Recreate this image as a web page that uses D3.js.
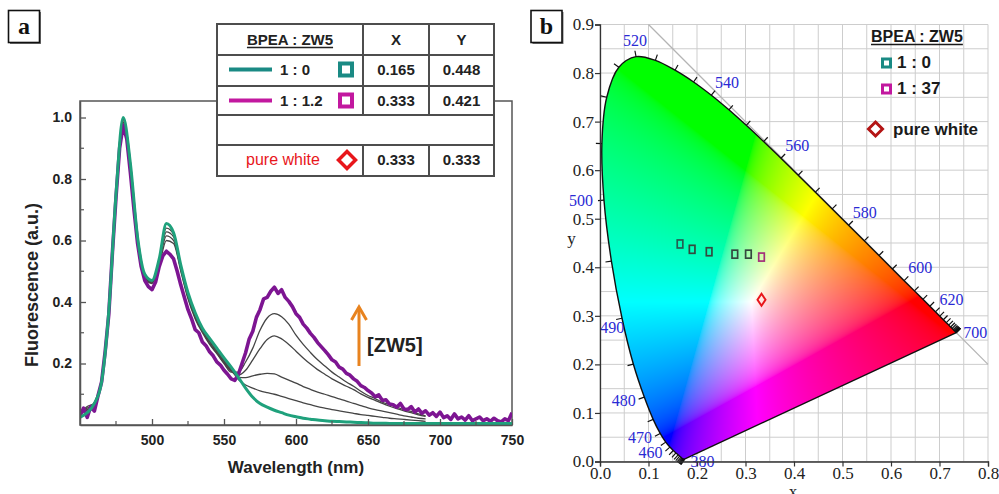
<!DOCTYPE html>
<html>
<head>
<meta charset="utf-8">
<script src="https://cdn.jsdelivr.net/npm/d3@7"></script>
<style>
  html, body { margin: 0; padding: 0; background: #fff; }
  svg { display: block; }
</style>
</head>
<body>
<svg id="chart" width="999" height="494"></svg>
<script>
// ================= Panel a: fluorescence spectra =================
const specStart = 450;

// BPEA : ZW5 = 1 : 0 (smooth reference spectrum), 5 nm sampling
const greenStep = 5;
const greenVals = [0.025,0.040,0.070,0.140,0.370,0.750,1.000,0.850,0.610,0.490,
  0.470,0.540,0.655,0.625,0.520,0.430,0.365,0.315,0.282,0.250,
  0.218,0.188,0.155,0.120,0.090,0.070,0.058,0.048,0.040,0.032,
  0.027,0.022,0.019,0.016,0.014,0.012,0.011,0.010,0.009,0.008,
  0.007,0.006,0.006,0.005,0.005,0.005,0.005,0.005,0.005,0.005,
  0.005,0.005,0.005,0.005,0.005,0.005,0.005,0.005,0.005,0.005,0.005];

// BPEA : ZW5 = 1 : 1.2 (noisy), 2.5 nm sampling
const purpleStep = 2.5;
const purpleVals = [0.030,0.055,0.025,0.060,0.045,0.095,0.140,0.240,0.360,0.560,
  0.740,0.900,0.975,0.930,0.820,0.700,0.590,0.515,0.470,0.450,
  0.440,0.465,0.515,0.550,0.565,0.555,0.540,0.500,0.455,0.415,
  0.375,0.345,0.310,0.300,0.270,0.258,0.238,0.225,0.205,0.195,
  0.178,0.165,0.150,0.145,0.165,0.200,0.235,0.280,0.305,0.350,
  0.375,0.410,0.415,0.435,0.448,0.428,0.440,0.415,0.402,0.385,
  0.362,0.350,0.328,0.315,0.298,0.285,0.268,0.255,0.242,0.228,
  0.212,0.205,0.188,0.182,0.168,0.162,0.150,0.142,0.128,0.122,
  0.112,0.104,0.092,0.098,0.080,0.082,0.068,0.066,0.058,0.070,
  0.052,0.050,0.060,0.042,0.052,0.038,0.046,0.032,0.040,0.028,
  0.042,0.024,0.030,0.018,0.036,0.020,0.026,0.016,0.030,0.014,
  0.020,0.026,0.014,0.020,0.012,0.022,0.014,0.010,0.020,0.014,0.040];

// intermediate ratios, 5 nm sampling (450 - 690 nm)
const grayStep = 5;
const gray1Vals = [0.040,0.055,0.070,0.140,0.360,0.740,0.980,0.840,0.600,0.480,
  0.460,0.520,0.600,0.590,0.500,0.410,0.345,0.300,0.262,0.232,
  0.200,0.172,0.172,0.205,0.250,0.308,0.348,0.362,0.352,0.328,
  0.292,0.262,0.236,0.212,0.192,0.172,0.156,0.140,0.126,0.110,
  0.096,0.086,0.074,0.066,0.058,0.050,0.044,0.036,0.030];
const gray2Vals = [0.045,0.050,0.075,0.145,0.365,0.745,0.985,0.845,0.605,0.482,
  0.462,0.528,0.615,0.600,0.505,0.415,0.350,0.305,0.265,0.234,
  0.202,0.175,0.162,0.178,0.212,0.248,0.278,0.290,0.280,0.262,
  0.240,0.218,0.198,0.180,0.165,0.150,0.138,0.126,0.115,0.101,
  0.090,0.080,0.070,0.061,0.053,0.046,0.040,0.033,0.028];
const gray3Vals = [0.035,0.060,0.070,0.140,0.370,0.750,0.990,0.850,0.608,0.485,
  0.465,0.532,0.628,0.612,0.512,0.420,0.355,0.308,0.270,0.238,
  0.206,0.178,0.155,0.154,0.160,0.165,0.168,0.166,0.156,0.146,
  0.136,0.125,0.116,0.107,0.100,0.092,0.085,0.078,0.070,0.063,
  0.056,0.050,0.045,0.040,0.035,0.030,0.026,0.022,0.020];
const gray4Vals = [0.040,0.048,0.072,0.142,0.368,0.752,0.995,0.855,0.610,0.488,
  0.468,0.538,0.640,0.620,0.518,0.425,0.360,0.312,0.274,0.242,
  0.210,0.180,0.148,0.130,0.120,0.111,0.105,0.100,0.093,0.086,
  0.079,0.072,0.066,0.060,0.055,0.050,0.046,0.042,0.038,0.034,
  0.031,0.028,0.025,0.022,0.020,0.018,0.016,0.014,0.012];

const xTicksA = [500, 550, 600, 650, 700, 750];
const xMinorA = [475, 525, 575, 625, 675, 725];
const yTicksA = [0.2, 0.4, 0.6, 0.8, 1.0];
const yMinorA = [0.1, 0.3, 0.5, 0.7, 0.9];

// table contents
const tableHeader = ["BPEA : ZW5", "X", "Y"];
const ratioLabels = ["1 : 0", "1 : 1.2"];
const ratioX = ["0.165", "0.333"];
const ratioY = ["0.448", "0.421"];
const whiteLabel = "pure white";
const whiteX = "0.333", whiteY = "0.333";

// ================= Panel b: CIE 1931 chromaticity =================
// spectral locus, 380-700 nm every 5 nm (CIE 1931 2-degree observer)
const locusWl = [380,385,390,395,400,405,410,415,420,425,430,435,440,445,450,455,460,465,470,475,
  480,485,490,495,500,505,510,515,520,525,530,535,540,545,550,555,560,565,570,575,
  580,585,590,595,600,605,610,615,620,625,630,635,640,645,650,655,660,665,670,675,
  680,685,690,695,700];
const locusX = [0.1741,0.1740,0.1738,0.1736,0.1733,0.1730,0.1726,0.1721,0.1714,0.1703,
  0.1689,0.1669,0.1644,0.1611,0.1566,0.1510,0.1440,0.1355,0.1241,0.1096,
  0.0913,0.0687,0.0454,0.0235,0.0082,0.0039,0.0139,0.0389,0.0743,0.1142,
  0.1547,0.1929,0.2296,0.2658,0.3016,0.3373,0.3731,0.4087,0.4441,0.4788,
  0.5125,0.5448,0.5752,0.6029,0.6270,0.6482,0.6658,0.6801,0.6915,0.7006,
  0.7079,0.7140,0.7190,0.7230,0.7260,0.7283,0.7300,0.7311,0.7320,0.7327,
  0.7334,0.7340,0.7344,0.7346,0.7347];
const locusY = [0.0050,0.0050,0.0049,0.0049,0.0048,0.0048,0.0048,0.0048,0.0051,0.0058,
  0.0069,0.0086,0.0109,0.0138,0.0177,0.0227,0.0297,0.0399,0.0578,0.0868,
  0.1327,0.2007,0.2950,0.4127,0.5384,0.6548,0.7502,0.8120,0.8338,0.8262,
  0.8059,0.7816,0.7543,0.7243,0.6923,0.6589,0.6245,0.5896,0.5547,0.5202,
  0.4866,0.4544,0.4242,0.3965,0.3725,0.3514,0.3340,0.3197,0.3083,0.2993,
  0.2920,0.2859,0.2809,0.2770,0.2740,0.2717,0.2700,0.2689,0.2680,0.2673,
  0.2666,0.2660,0.2656,0.2654,0.2653];
const labeledWl = [380,460,470,480,490,500,520,540,560,580,600,620,700];

// measured colour coordinates while titrating ZW5
const seriesX = [0.165, 0.190, 0.225, 0.278, 0.306, 0.333];
const seriesY = [0.448, 0.437, 0.432, 0.427, 0.427, 0.421];
const pureWhite = [0.333, 0.333];
const legendB = ["1 : 0", "1 : 37"];

const xTicksB = [0, 0.1, 0.2, 0.3, 0.4, 0.5, 0.6, 0.7, 0.8];
const yTicksB = [0, 0.1, 0.2, 0.3, 0.4, 0.5, 0.6, 0.7, 0.8, 0.9];
const gridXB = d3.range(0, 0.8001, 0.05);
const gridYB = d3.range(0, 0.9001, 0.05);

// ---------------------------------------------------------------
const svg = d3.select("#chart");
const SANS = "'Liberation Sans', Arial, sans-serif";
const SERIF = "'Liberation Serif', 'Times New Roman', serif";

const COL_GREEN = "#1fa17c";
const COL_PURPLE = "#7d1592";
const COL_GRAY = "#454545";
const COL_TEAL = "#1a8a84";
const COL_MAGENTA = "#c2189f";
const COL_RED = "#e8161b";

function panelLabel(x, y, letter) {
  const g = svg.append("g");
  g.append("rect").attr("x", x + 1.5).attr("y", y + 1.5).attr("width", 31).attr("height", 32)
    .attr("fill", "#777");
  g.append("rect").attr("x", x).attr("y", y).attr("width", 31).attr("height", 32)
    .attr("fill", "#fff").attr("stroke", "#111").attr("stroke-width", 1.6);
  g.append("text").attr("x", x + 15.5).attr("y", y + 23.5).attr("text-anchor", "middle")
    .attr("font-family", SERIF).attr("font-weight", "bold").attr("font-size", 24)
    .attr("fill", "#111").text(letter);
}

// ---------- panel a ----------
const xA = d3.scaleLinear().domain([450, 750]).range([80, 512]);
const yA = d3.scaleLinear().domain([0, 1.0537]).range([425, 101]);

svg.append("defs").append("clipPath").attr("id", "clipA")
  .append("rect").attr("x", 80).attr("y", 101).attr("width", 432).attr("height", 324);

const gA = svg.append("g");
gA.append("rect").attr("x", xA(450)).attr("y", yA(1.0537))
  .attr("width", xA(750) - xA(450)).attr("height", yA(0) - yA(1.0537))
  .attr("fill", "none").attr("stroke", "#555").attr("stroke-width", 1.5);

const toPts = (vals, step) => vals.map((v, i) => [specStart + i * step, v]);
const lineSmooth = d3.line().x(d => xA(d[0])).y(d => yA(d[1])).curve(d3.curveMonotoneX);
const lineRaw = d3.line().x(d => xA(d[0])).y(d => yA(d[1]));

const curves = gA.append("g").attr("clip-path", "url(#clipA)");
[gray1Vals, gray2Vals, gray3Vals, gray4Vals].forEach(vals => {
  curves.append("path").attr("d", lineSmooth(toPts(vals, grayStep)))
    .attr("fill", "none").attr("stroke", COL_GRAY).attr("stroke-width", 1.3);
});
curves.append("path").attr("d", lineRaw(toPts(purpleVals, purpleStep)))
  .attr("fill", "none").attr("stroke", COL_PURPLE).attr("stroke-width", 3.6)
  .attr("stroke-linejoin", "round");
curves.append("path").attr("d", lineSmooth(toPts(greenVals, greenStep)))
  .attr("fill", "none").attr("stroke", COL_GREEN).attr("stroke-width", 3);

// axes
const axA = gA.append("g").attr("transform", `translate(0,${yA(0)})`)
  .call(d3.axisBottom(xA).tickValues(xTicksA).tickSizeInner(-6).tickSizeOuter(0).tickPadding(10)
    .tickFormat(d3.format("d")));
const ayA = gA.append("g").attr("transform", `translate(${xA(450)},0)`)
  .call(d3.axisLeft(yA).tickValues(yTicksA).tickSizeInner(-6).tickSizeOuter(0).tickPadding(8)
    .tickFormat(d3.format(".1f")));
[axA, ayA].forEach(a => {
  a.select(".domain").attr("stroke", "#555").attr("stroke-width", 1.5);
  a.selectAll(".tick line").attr("stroke", "#555").attr("stroke-width", 1.3);
  a.selectAll(".tick text").attr("font-family", SANS).attr("font-weight", "bold")
    .attr("font-size", 14).attr("fill", "#222");
});
gA.selectAll(".minx").data(xMinorA).join("line")
  .attr("x1", d => xA(d)).attr("x2", d => xA(d)).attr("y1", yA(0)).attr("y2", yA(0) - 4)
  .attr("stroke", "#555").attr("stroke-width", 1.2);
gA.selectAll(".miny").data(yMinorA).join("line")
  .attr("y1", d => yA(d)).attr("y2", d => yA(d)).attr("x1", xA(450)).attr("x2", xA(450) + 4)
  .attr("stroke", "#555").attr("stroke-width", 1.2);

gA.append("text").attr("x", (xA(450) + xA(750)) / 2).attr("y", 473).attr("text-anchor", "middle")
  .attr("font-family", SANS).attr("font-weight", "bold").attr("font-size", 17).attr("fill", "#222")
  .text("Wavelength (nm)");
gA.append("text").attr("transform", "translate(38,285) rotate(-90)").attr("text-anchor", "middle")
  .attr("font-family", SANS).attr("font-weight", "bold").attr("font-size", 18).attr("fill", "#222")
  .text("Fluorescence (a.u.)");

// orange arrow with label
const arrow = gA.append("g").attr("stroke", "#e8831f").attr("stroke-width", 3).attr("fill", "none");
arrow.append("line").attr("x1", 359).attr("x2", 359).attr("y1", 366).attr("y2", 308);
arrow.append("polyline").attr("points", "351.5,320 359,307 366.5,320").attr("stroke-linejoin", "miter");
gA.append("text").attr("x", 367).attr("y", 352).attr("font-family", SANS).attr("font-size", 20)
  .attr("font-weight", "bold").attr("fill", "#222").text("[ZW5]");

// table
const tb = svg.append("g");
const colX = [217, 363, 429, 494];
const rowY = [24, 55, 86, 115, 145, 176];
tb.append("rect").attr("x", colX[0]).attr("y", rowY[0]).attr("width", colX[3] - colX[0])
  .attr("height", rowY[5] - rowY[0]).attr("fill", "#fff");
const tStroke = "#4d4d4d";
tb.append("rect").attr("x", colX[0]).attr("y", rowY[0]).attr("width", colX[3] - colX[0])
  .attr("height", rowY[5] - rowY[0]).attr("fill", "none").attr("stroke", tStroke).attr("stroke-width", 2);
rowY.slice(1, 5).forEach(y => tb.append("line").attr("x1", colX[0]).attr("x2", colX[3])
  .attr("y1", y).attr("y2", y).attr("stroke", tStroke).attr("stroke-width", 2));
[colX[1], colX[2]].forEach(x => {
  tb.append("line").attr("x1", x).attr("x2", x).attr("y1", rowY[0]).attr("y2", rowY[3])
    .attr("stroke", tStroke).attr("stroke-width", 2);
  tb.append("line").attr("x1", x).attr("x2", x).attr("y1", rowY[4]).attr("y2", rowY[5])
    .attr("stroke", tStroke).attr("stroke-width", 2);
});
const tText = (x, y, s, anchor, opts = {}) => tb.append("text").attr("x", x).attr("y", y)
  .attr("text-anchor", anchor).attr("font-family", SANS)
  .attr("font-weight", opts.weight || "bold").attr("font-size", opts.size || 15)
  .attr("fill", opts.fill || "#222").text(s);
const hdr = tText((colX[0] + colX[1]) / 2, 45, tableHeader[0], "middle");
const hw = hdr.node().getComputedTextLength();
tb.append("line").attr("x1", 290 - hw / 2).attr("x2", 290 + hw / 2).attr("y1", 47.5).attr("y2", 47.5)
  .attr("stroke", "#222").attr("stroke-width", 1.3);
tText((colX[1] + colX[2]) / 2, 45, tableHeader[1], "middle");
tText((colX[2] + colX[3]) / 2, 45, tableHeader[2], "middle");

const rowBase = [75, 106];
const rowColors = [COL_TEAL, COL_MAGENTA];
ratioLabels.forEach((lab, i) => {
  const yb = rowBase[i];
  tb.append("line").attr("x1", 229).attr("x2", 272).attr("y1", yb - 5.5).attr("y2", yb - 5.5)
    .attr("stroke", rowColors[i]).attr("stroke-width", 4);
  tText(280, yb, lab, "start");
  tb.append("rect").attr("x", 340).attr("y", yb - 11.5).attr("width", 12).attr("height", 12)
    .attr("fill", "none").attr("stroke", rowColors[i]).attr("stroke-width", 4);
  tText((colX[1] + colX[2]) / 2, yb, ratioX[i], "middle");
  tText((colX[2] + colX[3]) / 2, yb, ratioY[i], "middle");
});
tText(246, 165, whiteLabel, "start", { weight: "normal", size: 16, fill: COL_RED });
tb.append("path").attr("d", "M347,151.5 L355.5,160 L347,168.5 L338.5,160 Z")
  .attr("fill", "none").attr("stroke", COL_RED).attr("stroke-width", 3.5);
tText((colX[1] + colX[2]) / 2, 165, whiteX, "middle");
tText((colX[2] + colX[3]) / 2, 165, whiteY, "middle");

panelLabel(8.5, 10.5, "a");

// ---------- panel b ----------
const xB = d3.scaleLinear().domain([0, 0.8]).range([600, 988]);
const yB = d3.scaleLinear().domain([0, 0.9]).range([461.5, 24.5]);
const gB = svg.append("g");

// grid
gB.selectAll(".gx").data(gridXB).join("line")
  .attr("x1", d => xB(d)).attr("x2", d => xB(d)).attr("y1", yB(0)).attr("y2", yB(0.9))
  .attr("stroke", "#cdcdcd").attr("stroke-width", 1);
gB.selectAll(".gy").data(gridYB).join("line")
  .attr("y1", d => yB(d)).attr("y2", d => yB(d)).attr("x1", xB(0)).attr("x2", xB(0.8))
  .attr("stroke", "#cdcdcd").attr("stroke-width", 1);
// x + y = 1 boundary
gB.append("line").attr("x1", xB(0.1)).attr("y1", yB(0.9)).attr("x2", xB(0.8)).attr("y2", yB(0.2))
  .attr("stroke", "#b4b4b4").attr("stroke-width", 1.3);

// spectral locus as a smooth curve, closed by the purple line
const locusPts = locusWl.map((w, i) => [xB(locusX[i]), yB(locusY[i])]);
const locusD = d3.line().curve(d3.curveCatmullRom.alpha(0.5))(locusPts) + "Z";
const tmpPath = gB.append("path").attr("d", locusD).attr("fill", "none").attr("stroke", "none");
const locusPoly = (function () {
  const node = tmpPath.node();
  const L = node.getTotalLength();
  const out = [];
  for (let s = 0; s <= L; s += 0.75) {
    const p = node.getPointAtLength(s);
    out.push([p.x, p.y]);
  }
  return out;
})();
tmpPath.remove();

function chromaColor(cx, cy) {
  const X = cx / cy, Y = 1, Z = (1 - cx - cy) / cy;
  let r = 3.2406 * X - 1.5372 * Y - 0.4986 * Z;
  let g = -0.9689 * X + 1.8758 * Y + 0.0415 * Z;
  let b = 0.0557 * X - 0.2040 * Y + 1.0570 * Z;
  r = Math.max(0, r); g = Math.max(0, g); b = Math.max(0, b);
  const m = Math.max(r, g, b) || 1;
  const enc = v => { v /= m; return 255 * (v <= 0.0031308 ? 12.92 * v : 1.055 * Math.pow(v, 1 / 2.4) - 0.055); };
  return [enc(r), enc(g), enc(b)];
}
(function paintGamut() {
  const bx0 = Math.floor(d3.min(locusPoly, d => d[0])) - 1, bx1 = Math.ceil(d3.max(locusPoly, d => d[0])) + 1;
  const by0 = Math.floor(d3.min(locusPoly, d => d[1])) - 1, by1 = Math.ceil(d3.max(locusPoly, d => d[1])) + 1;
  const w = bx1 - bx0, h = by1 - by0;
  const cv = document.createElement("canvas");
  cv.width = w; cv.height = h;
  const ctx = cv.getContext("2d");
  const img = ctx.createImageData(w, h);
  for (let j = 0; j < h; j++) {
    for (let i = 0; i < w; i++) {
      const px = bx0 + i + 0.5, py = by0 + j + 0.5;
      if (!d3.polygonContains(locusPoly, [px, py])) continue;
      const c = chromaColor(xB.invert(px), Math.max(yB.invert(py), 0.003));
      const k = (j * w + i) * 4;
      img.data[k] = c[0]; img.data[k + 1] = c[1]; img.data[k + 2] = c[2]; img.data[k + 3] = 255;
    }
  }
  ctx.putImageData(img, 0, 0);
  gB.append("image").attr("x", bx0).attr("y", by0).attr("width", w).attr("height", h)
    .attr("href", cv.toDataURL("image/png"));
})();

// locus outline
gB.append("path").attr("d", locusD).attr("fill", "none")
  .attr("stroke", "#111").attr("stroke-width", 1.4).attr("stroke-linejoin", "round");

// wavelength ticks (outward normals)
function normalAt(i) {
  let a = i, b = i;
  const dist = () => Math.hypot(locusPts[b][0] - locusPts[a][0], locusPts[b][1] - locusPts[a][1]);
  while (dist() < 6 && (a > 0 || b < locusPts.length - 1)) {
    if (a > 0) a--;
    if (b < locusPts.length - 1) b++;
  }
  const tx = locusPts[b][0] - locusPts[a][0], ty = locusPts[b][1] - locusPts[a][1];
  const L = Math.hypot(tx, ty) || 1;
  return [ty / L, -tx / L];
}
const TICK = 6;
const tickG = gB.append("g").attr("stroke", "#111").attr("stroke-width", 1.2);
locusPts.forEach((p, i) => {
  const n = normalAt(i);
  tickG.append("line").attr("x1", p[0]).attr("y1", p[1])
    .attr("x2", p[0] + n[0] * TICK).attr("y2", p[1] + n[1] * TICK);
});
labeledWl.forEach(wl => {
  const i = locusWl.indexOf(wl);
  const p = locusPts[i];
  const n = normalAt(i);
  const ex = p[0] + n[0] * TICK, ey = p[1] + n[1] * TICK;
  let x, y, anchor;
  if (wl === 380) { x = p[0] + 6; y = p[1] + 2; anchor = "start"; }
  else if (wl === 700) { x = p[0] + 7; y = p[1]; anchor = "start"; }
  else if (wl === 490) { x = ex - 16; y = ey + 8; anchor = "start"; }
  else if (wl === 500) { x = ex - 5; y = ey; anchor = "end"; }
  else if (n[0] > 0.3) { x = ex; y = ey - 8.5; anchor = "start"; }
  else if (n[0] < -0.3) { x = ex - 3; y = ey + 1.5; anchor = "end"; }
  else { x = ex; y = ey - 10; anchor = "middle"; }
  gB.append("text").attr("x", x).attr("y", y)
    .attr("text-anchor", anchor).attr("dominant-baseline", "central")
    .attr("font-family", SERIF).attr("font-size", 16).attr("fill", "#2a2ad4").text(wl);
});

// axes
const axB = gB.append("g").attr("transform", `translate(0,${yB(0)})`)
  .call(d3.axisBottom(xB).tickValues(xTicksB).tickSize(5).tickPadding(0).tickFormat(d3.format(".1f")));
const ayB = gB.append("g").attr("transform", `translate(${xB(0)},0)`)
  .call(d3.axisLeft(yB).tickValues(yTicksB).tickSize(5).tickPadding(1).tickFormat(d3.format(".1f")));
[axB, ayB].forEach(a => {
  a.select(".domain").attr("stroke", "#333").attr("stroke-width", 1.3);
  a.selectAll(".tick line").attr("stroke", "#333").attr("stroke-width", 1.2);
  a.selectAll(".tick text").attr("font-family", SERIF).attr("font-size", 17).attr("fill", "#222");
});
gB.append("text").attr("x", (xB(0) + xB(0.8)) / 2 - 1).attr("y", 497).attr("text-anchor", "middle")
  .attr("font-family", SERIF).attr("font-size", 17).attr("fill", "#222").text("x");
gB.append("text").attr("x", 571.5).attr("y", 244).attr("text-anchor", "middle")
  .attr("font-family", SERIF).attr("font-size", 17).attr("fill", "#222").text("y");

// measured points
gB.selectAll(".pt").data(seriesX).join("rect")
  .attr("x", d => xB(d) - 2.8).attr("y", (d, i) => yB(seriesY[i]) - 4)
  .attr("width", 5.6).attr("height", 8).attr("fill", "none")
  .attr("stroke", (d, i) => i === seriesX.length - 1 ? "#a3317a" : (i === 0 ? "#245e52" : "#34493f"))
  .attr("stroke-width", 1.7);
const wx = xB(pureWhite[0]), wy = yB(pureWhite[1]);
gB.append("path").attr("d", `M${wx},${wy - 6} L${wx + 4},${wy} L${wx},${wy + 6} L${wx - 4},${wy} Z`)
  .attr("fill", "none").attr("stroke", COL_RED).attr("stroke-width", 2);

// legend
const lg = gB.append("g").attr("font-family", SANS).attr("font-weight", "bold").attr("fill", "#1a1a1a");
const lh = lg.append("text").attr("x", 871).attr("y", 42).attr("font-size", 16).text("BPEA : ZW5");
const lw = lh.node().getComputedTextLength();
lg.append("line").attr("x1", 871).attr("x2", 871 + lw).attr("y1", 44.5).attr("y2", 44.5)
  .attr("stroke", "#1a1a1a").attr("stroke-width", 1.3);
const legCols = [COL_TEAL, COL_MAGENTA];
legendB.forEach((s, i) => {
  const yb = 68 + i * 26;
  lg.append("rect").attr("x", 882.5).attr("y", yb - 9).attr("width", 8).attr("height", 8)
    .attr("fill", "none").attr("stroke", legCols[i]).attr("stroke-width", 3);
  lg.append("text").attr("x", 897).attr("y", yb).attr("font-size", 17).text(s);
});
lg.append("path").attr("d", "M875.5,122 L882.5,129 L875.5,136 L868.5,129 Z")
  .attr("fill", "none").attr("stroke", "#b31414").attr("stroke-width", 3);
lg.append("text").attr("x", 893).attr("y", 135).attr("font-size", 17).text(whiteLabel);

panelLabel(531, 10.5, "b");
</script>
</body>
</html>
